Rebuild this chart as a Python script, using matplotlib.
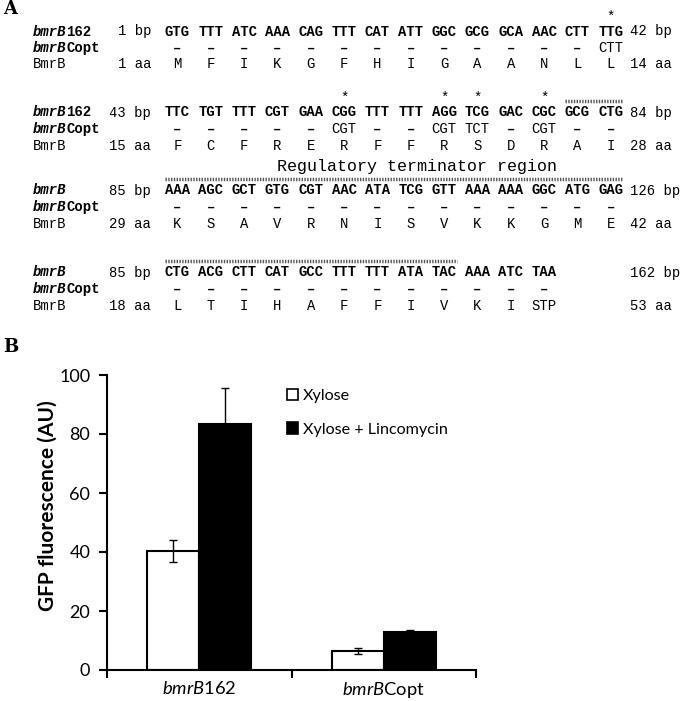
import matplotlib
matplotlib.use('Agg')
import matplotlib.pyplot as plt
from matplotlib.patches import Patch

# ---------------- panel A: sequence alignment ----------------
codons_1 = 'GTG TTT ATC AAA CAG TTT CAT ATT GGC GCG GCA AAC CTT TTG'.split()
copt_1 = ['-'] * 13 + ['CTT']
aa_1 = 'M F I K G F H I G A A N L L'.split()

codons_2 = 'TTC TGT TTT CGT GAA CGG TTT TTT AGG TCG GAC CGC GCG CTG'.split()
copt_2 = ['-', '-', '-', '-', '-', 'CGT', '-', '-', 'CGT', 'TCT', '-', 'CGT', '-', '-']
aa_2 = 'F C F R E R F F R S D R A I'.split()

codons_3 = 'AAA AGC GCT GTG CGT AAC ATA TCG GTT AAA AAA GGC ATG GAG'.split()
copt_3 = ['-'] * 14
aa_3 = 'K S A V R N I S V K K G M E'.split()

codons_4 = 'CTG ACG CTT CAT GCC TTT TTT ATA TAC AAA ATC TAA'.split()
copt_4 = ['-'] * 12
aa_4 = 'L T I H A F F I V K I STP'.split()

name_suffix = ['162', '162', '', '']
bp_start = ['1 bp', '43 bp', '85 bp', '85 bp']
bp_end = ['42 bp', '84 bp', '126 bp', '162 bp']
aa_start = ['1 aa', '15 aa', '29 aa', '18 aa']
aa_end = ['14 aa', '28 aa', '42 aa', '53 aa']
stars = [[13], [5, 8, 9, 11], [], []]
dotted = [None, (12, 13), (0, 13), (0, 8)]
region_label = 'Regulatory terminator region'

# ---------------- panel B: GFP fluorescence ----------------
strains = ['bmrB162', 'bmrBCopt']
xylose = [40.2, 6.3]
xylose_err = [3.7, 1.0]
lincomycin = [83.5, 13.0]
lincomycin_err = [12.2, 0.5]

W, H = 696, 701
fig = plt.figure(figsize=(W / 100, H / 100), dpi=100)

axA = fig.add_axes([0, 0, 1, 1])
axA.set_xlim(0, W)
axA.set_ylim(H, 0)
axA.axis('off')

mono = 'Liberation Mono'
fs = 10
cw = 0.6 * fs * 100 / 72          # char width in px
x_name = 33
x_num = 151
x_end = 630
x0 = 165
pitch = 4 * cw
row_y = [31, 112, 190, 272]
dy = 16.5
base = 4.5                         # row centre -> text baseline


def put(x, y, s, **kw):
    axA.text(x, y + base, s, family=mono, size=fs, va='baseline', **kw)


blocks = [(codons_1, copt_1, aa_1), (codons_2, copt_2, aa_2),
          (codons_3, copt_3, aa_3), (codons_4, copt_4, aa_4)]

for b, (cod, copt, aa) in enumerate(blocks):
    y1, y2, y3 = row_y[b], row_y[b] + dy, row_y[b] + 2 * dy
    # row names
    put(x_name, y1, 'bmrB', weight='bold', style='italic')
    put(x_name + 4 * cw, y1, name_suffix[b], weight='bold')
    put(x_name, y2, 'bmrB', weight='bold', style='italic')
    put(x_name + 4 * cw, y2, 'Copt', weight='bold')
    put(x_name, y3, 'BmrB')
    put(x_num, y1, bp_start[b], ha='right')
    put(x_num, y3, aa_start[b], ha='right')
    put(x_end, y1, bp_end[b])
    put(x_end, y3, aa_end[b])
    for i, c in enumerate(cod):
        xc = x0 + i * pitch + 1.5 * cw
        put(xc, y1, c, weight='bold', ha='center')
        if copt[i] == '-':
            put(xc, y2, '\u2013', weight='bold', ha='center')
        else:
            put(xc, y2, copt[i], ha='center')
        put(xc, y3, aa[i], ha='center')
    for i in stars[b]:
        xc = x0 + i * pitch + 1.5 * cw
        put(xc, y1 - 15, '*', ha='center')
    if dotted[b] is not None:
        a, e = dotted[b]
        axA.plot([x0 + a * pitch, x0 + e * pitch + 3 * cw], [y1 - 11, y1 - 11],
                 color='#555555', lw=2.5, linestyle=(0, (0.4, 0.4)), solid_capstyle='butt')

axA.text(277, 171, region_label, family=mono, size=12, va='baseline')
axA.text(3, 9, 'A', family='DejaVu Serif', size=13, weight='bold', va='center')
axA.text(3, 347, 'B', family='DejaVu Serif', size=13, weight='bold', va='center')

# ---------------- bar chart ----------------
plt.rcParams['font.family'] = 'Lato'
plt.rcParams['mathtext.fontset'] = 'custom'
plt.rcParams['mathtext.it'] = 'Lato:italic'
plt.rcParams['mathtext.rm'] = 'Lato'

ax = fig.add_axes([107 / W, 1 - 670 / H, 369 / W, 295 / H])
xs = list(range(len(strains)))
bw = 0.283
ax.bar([x - bw / 2 for x in xs], xylose, bw, color='white', edgecolor='black', lw=1.5, zorder=2)
ax.bar([x + bw / 2 for x in xs], lincomycin, bw, color='black', edgecolor='black', lw=1.5, zorder=2)
ax.errorbar([x - bw / 2 for x in xs], xylose, yerr=xylose_err, fmt='none', ecolor='black',
            elinewidth=1, capsize=3, capthick=1, zorder=3)
ax.errorbar([x + bw / 2 for x in xs], lincomycin, yerr=lincomycin_err, fmt='none', ecolor='black',
            elinewidth=1, capsize=3, capthick=1, zorder=1)

ax.set_xlim(-0.5, 1.5)
ax.set_ylim(0, 100)
ax.set_yticks([0, 20, 40, 60, 80, 100])
ax.set_xticks(xs)
ax.set_xticklabels([r'$\mathit{bmrB}$162', r'$\mathit{bmrB}$Copt'], fontsize=13.2)
ax.set_xticks([-0.5, 0.5, 1.5], minor=True)
ax.tick_params(axis='x', which='major', length=0, pad=7)
ax.tick_params(axis='x', which='minor', length=6, width=1.5, direction='out')
ax.tick_params(axis='y', length=6, width=1.5, direction='out', labelsize=13, pad=6)
for s in ['top', 'right']:
    ax.spines[s].set_visible(False)
for s in ['left', 'bottom']:
    ax.spines[s].set_linewidth(1.5)

fig.text(48 / W, 1 - 506 / H, 'GFP fluorescence (AU)', rotation=90, ha='center', va='center',
         fontsize=15, fontweight='bold')

handles = [Patch(facecolor='white', edgecolor='black', lw=1.2, label='Xylose'),
           Patch(facecolor='black', edgecolor='black', lw=1.2, label='Xylose + Lincomycin')]
ax.legend(handles=handles, loc='upper left', bbox_to_anchor=(287 / W, 1 - 389 / H),
          bbox_transform=fig.transFigure, frameon=False, fontsize=11.6, handlelength=0.7,
          handleheight=0.7, handletextpad=0.3, labelspacing=1.18, borderpad=0, borderaxespad=0)

fig.savefig('out.png', dpi=100)
